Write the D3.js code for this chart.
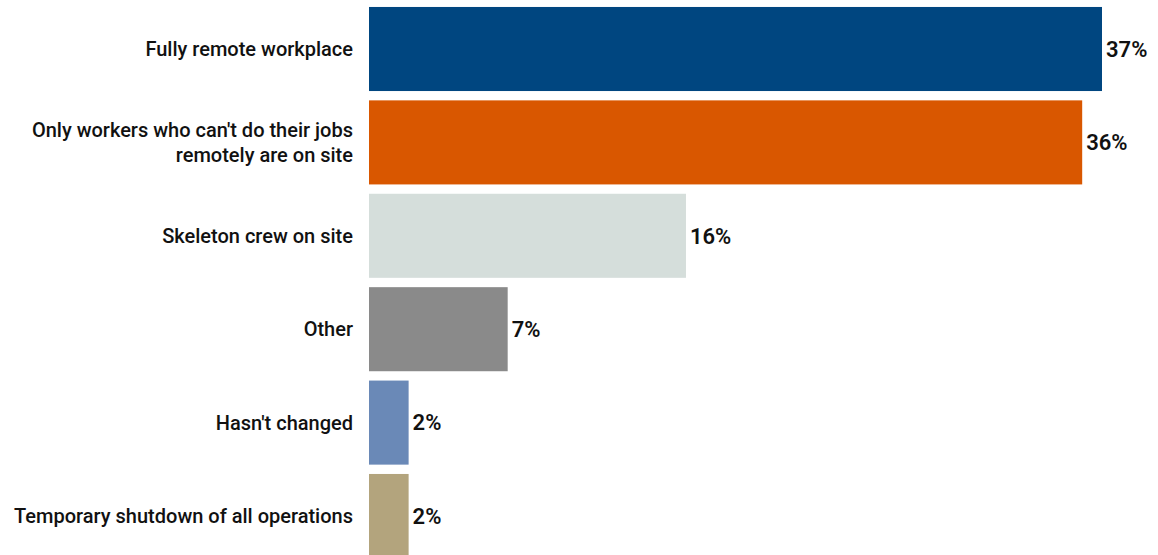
<!DOCTYPE html>
<html>
  <head>
    <meta charset="UTF-8">
    <title>Workplace arrangements</title>
    <script src="https://d3js.org/d3.v7.min.js"></script>
    <style>
      body { margin: 0; background: #fff; }
      text { font-family: Roboto, "Noto Sans", sans-serif; fill: #111; }
    </style>
  </head>
  <body>
    <div id="chart"></div>
    <script>
      const categories = [
        'Fully remote workplace',
        "Only workers who can't do their jobs|remotely are on site",
        'Skeleton crew on site',
        'Other',
        "Hasn't changed",
        'Temporary shutdown of all operations'
      ];
      const values = [37, 36, 16, 7, 2, 2];
      const colors = ['#004680', '#d95700', '#d5dedb', '#8a8a8a', '#6a89b7', '#b3a47d'];

      const width = 1158;
      const height = 555;

      const svg = d3.select('#chart')
        .append('svg')
        .attr('width', width)
        .attr('height', height);

      const x = d3.scaleLinear()
        .domain([0, 37])
        .range([369, 1102]);

      const y = d3.scaleBand()
        .domain(categories)
        .range([2.3, 562.7])
        .paddingInner(0.1)
        .paddingOuter(0.05);

      const rows = categories.map((c, i) => ({ cat: c, value: values[i], color: colors[i] }));

      svg.selectAll('rect.bar')
        .data(rows)
        .enter().append('rect')
        .attr('class', 'bar')
        .attr('x', x(0))
        .attr('y', (d) => y(d.cat))
        .attr('width', (d) => x(d.value) - x(0))
        .attr('height', y.bandwidth())
        .attr('fill', (d) => d.color);

      // category labels, split on '|'
      const labels = svg.selectAll('text.label')
        .data(rows)
        .enter().append('text')
        .attr('class', 'label')
        .attr('x', x(0) - 16)
        .attr('text-anchor', 'end')
        .attr('font-size', '20px')
        .attr('font-weight', 500);

      labels.each(function (d) {
        const lines = d.cat.split('|');
        const cy = y(d.cat) + y.bandwidth() / 2;
        const lh = 25;
        const t = d3.select(this);
        lines.forEach((line, j) => {
          t.append('tspan')
            .attr('x', x(0) - 16)
            .attr('y', cy + (j - (lines.length - 1) / 2) * lh)
            .attr('dy', '0.35em')
            .text(line);
        });
      });

      svg.selectAll('text.value')
        .data(rows)
        .enter().append('text')
        .attr('class', 'value')
        .attr('x', (d) => x(d.value) + 4)
        .attr('y', (d) => y(d.cat) + y.bandwidth() / 2)
        .attr('dy', '0.35em')
        .attr('font-size', '22px')
        .attr('font-weight', 600)
        .text((d) => d.value + '%');
    </script>
  </body>
</html>
